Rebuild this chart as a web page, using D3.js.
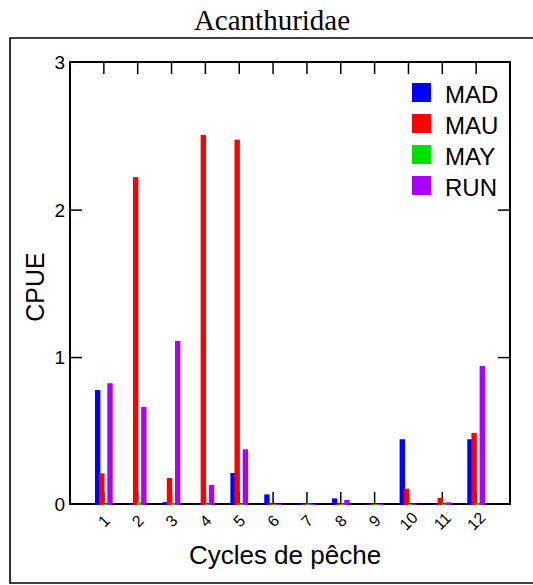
<!DOCTYPE html>
<html><head><meta charset="utf-8">
<script src="https://cdn.jsdelivr.net/npm/d3@7"></script>
<style>body{margin:0;background:#fff}svg{display:block}</style>
</head><body>
<svg id="c" width="533" height="585"></svg>
<script>
const categories = ["1","2","3","4","5","6","7","8","9","10","11","12"];
const seriesNames = ["MAD","MAU","MAY","RUN"];
const MAD = [0.78, 0.008, 0.02, 0.008, 0.217, 0.072, 0.008, 0.045, 0.008, 0.446, 0.008, 0.446];
const MAU = [0.215, 2.224, 0.183, 2.51, 2.478, 0.01, 0.01, 0.01, 0.01, 0.111, 0.048, 0.489];
const MAY = [0.01, 0.022, 0.012, 0.01, 0.01, 0.008, 0.01, 0.01, 0.008, 0.008, 0.01, 0.012];
const RUN = [0.826, 0.665, 1.113, 0.136, 0.378, 0.008, 0.008, 0.034, 0.008, 0.01, 0.018, 0.943];
const yTicks = [0, 1, 2, 3];
const colors = ["#0000ff", "#ff0000", "#00e000", "#aa00ff"];
const title = "Acanthuridae", xLabel = "Cycles de pêche", yLabel = "CPUE";

const series = [MAD, MAU, MAY, RUN];
const svg = d3.select("#c");
const L = 70, R = 510, T = 62, B = 504;
const x = d3.scaleLinear().domain([0, 13]).range([L, R]);
const y = d3.scaleLinear().domain([0, 3]).range([B + 1, T + 0.7]);
const sans = "'Liberation Sans', Arial, sans-serif";

// outer border
svg.append("path").attr("d", `M545,38 H10 V583 H545`).attr("fill", "none").attr("stroke", "#000").attr("stroke-width", 1.6);

// title
svg.append("text").attr("x", 272).attr("y", 30).attr("text-anchor", "middle")
  .attr("font-family", "'Liberation Serif', 'Times New Roman', serif").attr("font-size", 29).text(title);

// ticks (inward)
const tk = 12;
const g = svg.append("g").attr("stroke", "#000").attr("stroke-width", 1.5);
categories.forEach((c, i) => {
  const xx = x(i + 1);
  g.append("line").attr("x1", xx).attr("x2", xx).attr("y1", T).attr("y2", T + tk);
  g.append("line").attr("x1", xx).attr("x2", xx).attr("y1", B).attr("y2", B - tk);
});
yTicks.forEach(v => {
  const yy = v === 0 ? B : v === 3 ? T : y(v);
  g.append("line").attr("x1", L).attr("x2", L + tk).attr("y1", yy).attr("y2", yy);
  g.append("line").attr("x1", R).attr("x2", R - tk).attr("y1", yy).attr("y2", yy);
});

// frame
svg.append("rect").attr("x", L).attr("y", T).attr("width", R - L).attr("height", B - T)
  .attr("fill", "none").attr("stroke", "#000").attr("stroke-width", 2);

// bars (drawn over the frame baseline)
const bw = 5.4, step = 4.1;
series.forEach((vals, s) => {
  svg.append("g").selectAll("rect").data(vals).join("rect")
    .attr("x", (d, i) => x(i + 1) + (s - 1.5) * step - bw / 2)
    .attr("width", bw)
    .attr("y", d => y(d))
    .attr("height", d => Math.max(0, y(0) - y(d)))
    .attr("fill", colors[s]);
});

// y tick labels
svg.append("g").selectAll("text").data(yTicks).join("text")
  .attr("x", 65).attr("y", d => d === 0 ? B : d === 3 ? T : y(d)).attr("dy", "0.36em").attr("text-anchor", "end")
  .attr("font-family", sans).attr("font-size", 19).text(d => d);

// x tick labels rotated
svg.append("g").selectAll("text").data(categories).join("text")
  .attr("transform", (d, i) => `translate(${x(i + 1)},${521}) rotate(-45)`)
  .attr("text-anchor", "middle").attr("dy", "0.35em")
  .attr("font-family", sans).attr("font-size", 16).text(d => d);

// axis labels
svg.append("text").attr("x", 285).attr("y", 564).attr("text-anchor", "middle")
  .attr("font-family", sans).attr("font-size", 26).text(xLabel);
svg.append("text").attr("transform", "translate(44,287) rotate(-90)").attr("text-anchor", "middle")
  .attr("font-family", sans).attr("font-size", 25).text(yLabel);

// legend
const lg = svg.append("g");
seriesNames.forEach((n, i) => {
  const yy = 83 + i * 31;
  lg.append("rect").attr("x", 412).attr("y", yy).attr("width", 19).attr("height", 19).attr("fill", colors[i]);
  lg.append("text").attr("x", 445).attr("y", yy + 20).attr("font-family", sans).attr("font-size", 24).text(n);
});
</script>
</body></html>
